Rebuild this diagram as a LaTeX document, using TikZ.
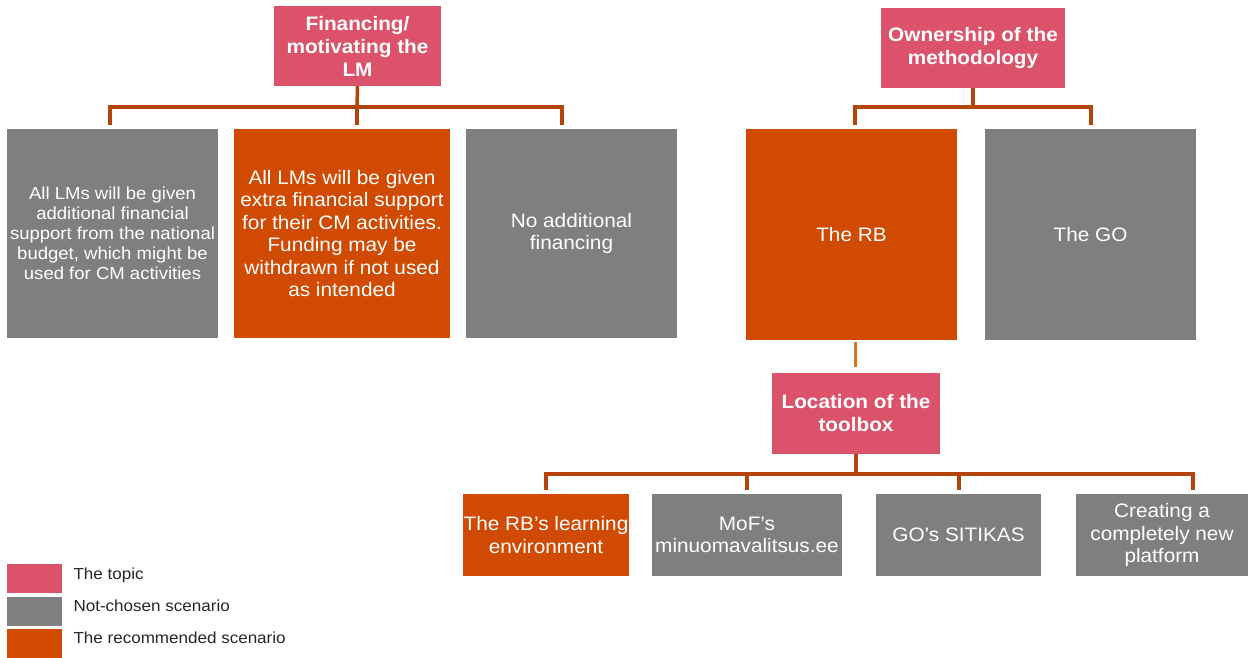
\documentclass[tikz,border=0pt]{standalone}
\usepackage{fontspec}
\setmainfont{Liberation Sans}[FakeStretch=1.065]
\definecolor{topiccol}{HTML}{DC526B}
\definecolor{greycol}{HTML}{7F7F7F}
\definecolor{reccol}{HTML}{D04A02}
\definecolor{linkcol}{HTML}{B5440C}
\definecolor{stemcol}{HTML}{E0701E}

\begin{document}
\begin{tikzpicture}[x=1pt,y=-1pt,
  box/.style={text=white,align=center,inner sep=0pt,font=\fontsize{19.5}{22.5}\selectfont},
  topicbox/.style={box,fill=topiccol,font=\bfseries\fontsize{19.5}{23}\selectfont},
  greybox/.style={box,fill=greycol},
  recbox/.style={box,fill=reccol},
  link/.style={draw=linkcol,line width=3.5pt},
  legsq/.style={minimum width=55pt,minimum height=29pt,inner sep=0pt},
  legtext/.style={anchor=west,text=black!85,font=\fontsize{16}{18}\selectfont}]

\fill[white] (0,0) rectangle (1249,657);
\useasboundingbox (0,0) rectangle (1249,657);

% financing
\node[topicbox,minimum width=167pt,minimum height=80pt] (fin) at (357.5,46) {Financing/\\motivating the\\LM};
\node[greybox,minimum width=211pt,minimum height=209pt,font=\fontsize{17.4}{20}\selectfont] (fin1) at (112.5,233.5)
  {All LMs will be given\\additional financial\\support from the national\\budget, which might be\\used for CM activities};
\node[recbox,minimum width=216pt,minimum height=209pt] (fin2) at (342,233.5)
  {All LMs will be given\\extra financial support\\for their CM activities.\\Funding may be\\withdrawn if not used\\as intended};
\node[greybox,minimum width=211pt,minimum height=209pt] (fin3) at (571.5,233.5) {No additional\\financing};

\coordinate (fa) at (110,107);
\coordinate (fb) at (357,107);
\coordinate (fc) at (562,107);
\draw[link] (fin.south) -- (fb);
\draw[link] (fa) ++(0,18) -- (fa) -- (fc) -- ++(0,18);
\draw[link] (fb) -- ++(0,18);

% ownership
\node[topicbox,minimum width=184pt,minimum height=80pt] (own) at (973,48) {Ownership of the\\methodology};
\node[recbox,minimum width=211pt,minimum height=211pt] (rb) at (851.5,234.5) {The RB};
\node[greybox,minimum width=211pt,minimum height=211pt] (go) at (1090.5,234.5) {The GO};

\coordinate (oa) at (855,107);
\coordinate (ob) at (973,107);
\coordinate (oc) at (1091,107);
\draw[link] (own.south) -- (ob);
\draw[link] (oa) ++(0,18) -- (oa) -- (oc) -- ++(0,18);

% location
\node[topicbox,minimum width=168pt,minimum height=81pt] (loc) at (856,413.5) {Location of the\\toolbox};
\node[recbox,minimum width=166pt,minimum height=82pt] (loc1) at (546,535) {The RB’s learning\\environment};
\node[greybox,minimum width=190pt,minimum height=82pt] (loc2) at (747,535) {MoF’s\\minuomavalitsus.ee};
\node[greybox,minimum width=165pt,minimum height=82pt] (loc3) at (958.5,535) {GO’s SITIKAS};
\node[greybox,minimum width=172pt,minimum height=82pt] (loc4) at (1162,535) {Creating a\\completely new\\platform};

\coordinate (rbs) at (855,340);
\draw[draw=stemcol,line width=3pt,shorten <=2pt,shorten >=6pt] (rbs) -- (rbs |- loc.north);

\coordinate (la) at (546,474);
\coordinate (lm) at (856,474);
\coordinate (ld) at (1193,474);
\draw[link] (loc.south) -- (lm);
\draw[link] (la) ++(0,16) -- (la) -- (ld) -- ++(0,16);
\draw[link] (747,474) -- ++(0,16);
\draw[link] (959,474) -- ++(0,16);

% legend
\node[legsq,fill=topiccol] (lg1) at (34.5,578.5) {};
\node[legsq,fill=greycol] (lg2) at (34.5,611) {};
\node[legsq,fill=reccol] (lg3) at (34.5,643) {};
\node[legtext] (lt1) at (70,575) {The topic};
\node[legtext] (lt2) at (70,606) {Not-chosen scenario};
\node[legtext] (lt3) at (70,638) {The recommended scenario};
\end{tikzpicture}
\end{document}
